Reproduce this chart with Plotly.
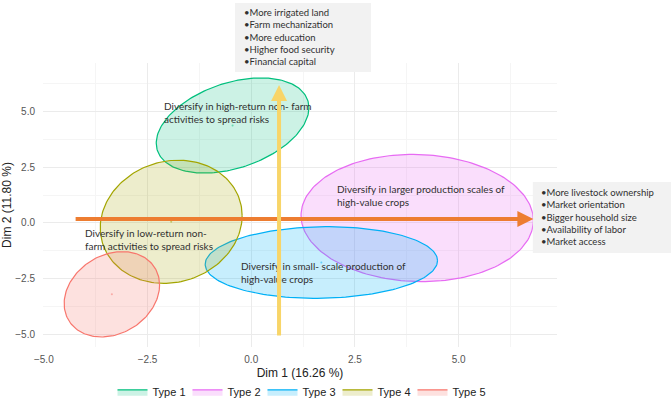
import numpy as np
import plotly.graph_objects as go

# confidence ellipses per household type
types = ["Type 1", "Type 2", "Type 3", "Type 4", "Type 5"]
line_colors = ["#00BF7D", "#E76BF3", "#00B0F6", "#A3A500", "#F8766D"]
fill_colors = ["rgba(0,191,125,0.2)", "rgba(231,107,243,0.22)", "rgba(0,176,246,0.22)",
               "rgba(163,165,0,0.2)", "rgba(248,118,109,0.22)"]
center_x = [-0.45, 4.00, 1.69, -1.93, -3.36]
center_y = [4.38, 0.22, -1.78, 0.05, -3.21]
radius_x = [1.84, 2.80, 2.80, 1.71, 1.15]
radius_y = [2.14, 2.86, 1.61, 2.77, 1.92]
tilt = [0.38, -0.04, 0.05, 0.10, 0.22]

# ellipse labels
label_text = [
    "Diversify in high-return non- farm<br>activities to spread risks",
    "Diversify in larger production scales of<br>high-value crops",
    "Diversify in small- scale production of<br>high-value crops",
    "Diversify in low-return non-<br>farm activities to spread risks",
]
label_x = [-2.14, 2.02, -0.30, -4.05]
label_y = [4.98, 1.22, -2.22, -0.73]

# arrows
dim1_arrow = dict(x0=-4.27, x1=6.80, y=0.18)
dim2_arrow = dict(x=0.67, y0=-5.13, y1=6.2)

dim2_drivers = ["More irrigated land", "Farm mechanization", "More education",
                "Higher food security", "Financial capital"]
dim1_drivers = ["More livestock ownership", "Market orientation", "Bigger household size",
                "Availability of labor", "Market access"]

x_range = [-5.02, 7.37]
y_range = [-5.58, 7.19]

fig = go.Figure()

t = np.linspace(0, 2 * np.pi, 181)
for i, name in enumerate(types):
    ex = center_x[i] + radius_x[i] * np.cos(t)
    ey = center_y[i] + radius_y[i] * np.sin(t + tilt[i])
    fig.add_trace(go.Scatter(x=ex, y=ey, mode="lines", fill="toself",
                             fillcolor=fill_colors[i],
                             line=dict(color=line_colors[i], width=1.2),
                             name=name, hoverinfo="skip"))

# tiny centre points
fig.add_trace(go.Scatter(x=center_x, y=center_y, mode="markers",
                         marker=dict(color=line_colors, size=2, opacity=0.5),
                         showlegend=False, hoverinfo="skip"))

for txt, lx, ly in zip(label_text, label_x, label_y):
    fig.add_annotation(x=lx, y=ly, text=txt, showarrow=False, xanchor="left",
                       yanchor="middle", align="left",
                       font=dict(family="Lato", size=10, color="#303030"))

# direction arrows
fig.add_annotation(x=dim1_arrow["x1"], y=dim1_arrow["y"], ax=dim1_arrow["x0"], ay=dim1_arrow["y"],
                   xref="x", yref="y", axref="x", ayref="y", text="", showarrow=True,
                   arrowhead=2, arrowsize=0.8, arrowwidth=4, arrowcolor="#ED7D31")
fig.add_annotation(x=dim2_arrow["x"], y=dim2_arrow["y1"], ax=dim2_arrow["x"], ay=dim2_arrow["y0"],
                   xref="x", yref="y", axref="x", ayref="y", text="", showarrow=True,
                   arrowhead=2, arrowsize=0.8, arrowwidth=4, arrowcolor="#F8D568")

# driver boxes
fig.add_shape(type="rect", xref="paper", yref="paper", x0=0.3735, x1=0.638, y0=0.968, y1=1.211,
              fillcolor="#F2F2F2", line=dict(width=0))
fig.add_shape(type="rect", xref="paper", yref="paper", x0=0.953, x1=1.222, y0=0.331, y1=0.581,
              fillcolor="#F2F2F2", line=dict(width=0))
fig.add_annotation(xref="paper", yref="paper", x=0.387, y=1.093,
                   text="<br>".join("•" + d for d in dim2_drivers), showarrow=False,
                   xanchor="left", yanchor="middle", align="left",
                   font=dict(family="Lato", size=9.5, color="#303030"))
fig.add_annotation(xref="paper", yref="paper", x=0.965, y=0.456,
                   text="<br>".join("•" + d for d in dim1_drivers), showarrow=False,
                   xanchor="left", yanchor="middle", align="left",
                   font=dict(family="Lato", size=9.5, color="#303030"))

fig.update_layout(
    width=671, height=405,
    margin=dict(l=43, r=114, t=63, b=58, autoexpand=False),
    plot_bgcolor="white", paper_bgcolor="white",
    font=dict(family="Liberation Sans", color="#222222"),
    legend=dict(orientation="h", x=0.5, xanchor="center", y=-0.158, yanchor="middle",
                font=dict(size=11), entrywidth=30, itemwidth=30),
    showlegend=True,
)
fig.update_xaxes(range=x_range, tick0=-5, dtick=2.5, tickformat=".1f",
                 showgrid=True, gridcolor="#EBEBEB", gridwidth=1, zeroline=False,
                 minor=dict(dtick=1.25, showgrid=True, gridcolor="#F5F5F5", gridwidth=1),
                 ticks="outside", ticklen=3, tickcolor="rgba(0,0,0,0)",
                 tickfont=dict(size=10, color="#555555"), automargin=False,
                 title=dict(text="Dim 1 (16.26 %)", font=dict(size=12), standoff=4))
fig.update_yaxes(range=y_range, tick0=-5, dtick=2.5, tickformat=".1f",
                 showgrid=True, gridcolor="#EBEBEB", gridwidth=1, zeroline=False,
                 minor=dict(dtick=1.25, showgrid=True, gridcolor="#F5F5F5", gridwidth=1),
                 ticks="outside", ticklen=5, tickcolor="rgba(0,0,0,0)",
                 tickfont=dict(size=10, color="#555555"), automargin=False,
                 title=dict(text="Dim 2 (11.80 %)", font=dict(size=12), standoff=4))

# page body has a default 8px margin; drop it so the figure fills the window
fig.write_html("out.html", config={"displayModeBar": False},
               post_script="document.body.style.margin='0';")
